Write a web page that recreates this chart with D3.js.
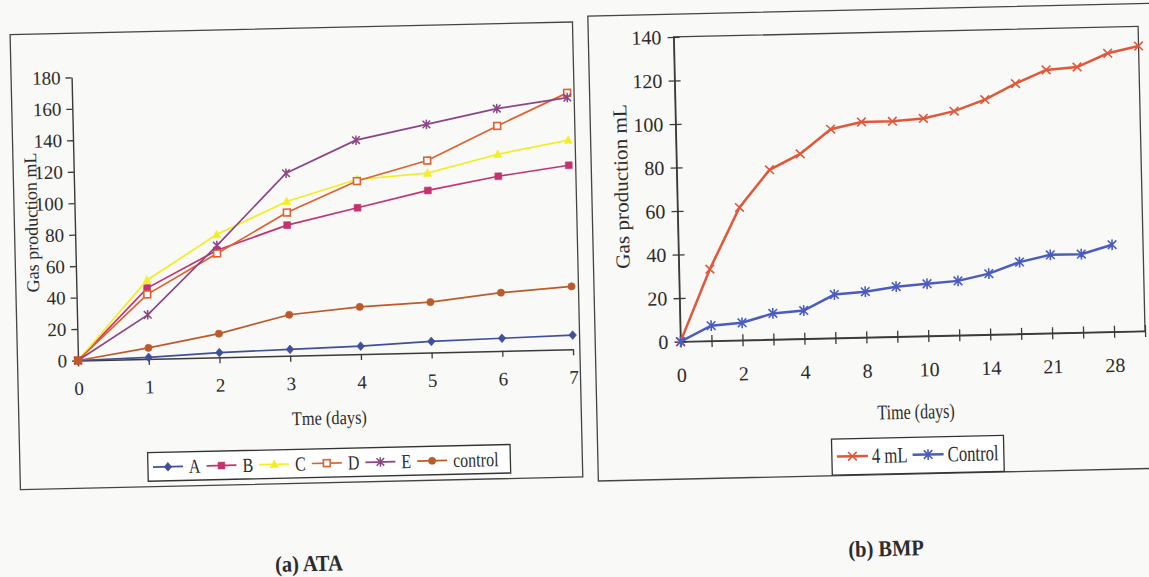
<!DOCTYPE html>
<html>
<head>
<meta charset="utf-8">
<script src="https://cdn.jsdelivr.net/npm/d3@7"></script>
<style>
  body { margin: 0; background: #f9f9f7; }
  svg { display: block; }
  text { font-family: "Liberation Serif", "Times New Roman", serif; fill: #2c2c2c; }
</style>
</head>
<body>
<svg id="chart" width="1149" height="577"></svg>
<script>
// ---------- data: (a) ATA ----------
const ataDays = [0, 1, 2, 3, 4, 5, 6, 7];
const ataA = [0, 1, 3, 4, 5, 7, 8, 9];
const ataB = [0, 45, 68, 83, 93, 103, 111, 117];
const ataC = [0, 50, 78, 98, 111, 114, 125, 133];
const ataD = [0, 41, 66, 91, 110, 122, 143, 163];
const ataE = [0, 28, 71, 116, 136, 145, 154, 160];
const ataControl = [0, 7, 15, 26, 30, 32, 37, 40];
const ataYTicks = [0, 20, 40, 60, 80, 100, 120, 140, 160, 180];
const ataNames = ["A", "B", "C", "D", "E", "control"];

// ---------- data: (b) BMP ----------
const bmpCategories = ["0", "", "2", "", "4", "", "8", "", "10", "", "14", "", "21", "", "28", ""];
const bmp4mL = [0, 33, 61, 78, 85, 96, 99, 99, 100, 103, 108, 115, 121, 122, 128, 131];
const bmpControl = [0, 7, 8, 12, 13, 20, 21, 23, 24, 25, 28, 33, 36, 36, 40];
const bmpYTicks = [0, 20, 40, 60, 80, 100, 120, 140];
const bmpNames = ["4 mL", "Control"];

// ---------- helpers ----------
const INK = "#3a3a3a";
const svg = d3.select("#chart");
const root = svg.append("g").attr("transform", "rotate(-1.3,574.5,288.5)");

function ctext(g, str, x, y, size, k, anchor, weight) {
  return g.append("text")
    .attr("transform", `translate(${x},${y}) scale(${k},1)`)
    .attr("font-size", size)
    .attr("text-anchor", anchor || "start")
    .attr("font-weight", weight || "normal")
    .text(str);
}

const markers = {
  diamond: r => `M0,${-r * 1.15}L${r},0L0,${r * 1.15}L${-r},0Z`,
  square: r => `M${-r},${-r}H${r}V${r}H${-r}Z`,
  triangle: r => `M0,${-r * 1.1}L${r},${r * 0.8}L${-r},${r * 0.8}Z`,
  circle: r => d3.arc()({innerRadius: 0, outerRadius: r, startAngle: 0, endAngle: 2 * Math.PI}),
  star: r => `M${-r},${-r}L${r},${r}M${-r},${r}L${r},${-r}M0,${-r * 1.25}L0,${r * 1.25}`,
  cross: r => `M${-r},${-r}L${r},${r}M${-r},${r}L${r},${-r}`
};

function drawMarker(g, spec, x, y) {
  const p = g.append("path")
    .attr("transform", `translate(${x},${y})`)
    .attr("d", markers[spec.shape](spec.r));
  if (spec.hollow) {
    p.attr("fill", "#fff").attr("stroke", spec.color).attr("stroke-width", 1.6);
  } else if (spec.shape === "star" || spec.shape === "cross") {
    p.attr("fill", "none").attr("stroke", spec.color).attr("stroke-width", spec.sw || 1.5);
  } else {
    p.attr("fill", spec.color).attr("stroke", spec.color).attr("stroke-width", 0.6);
  }
}

function styleAxis(g, size) {
  g.attr("font-size", null).attr("font-family", null);
  g.selectAll("text").attr("font-size", size).attr("fill", "#2c2c2c");
  g.selectAll("line").attr("stroke", INK).attr("stroke-width", 1.3);
  g.select(".domain").attr("stroke", INK).attr("stroke-width", 1.4);
}

// =================== (a) ATA ===================
const pa = root.append("g");
pa.append("rect").attr("x", 16).attr("y", 22).attr("width", 562.5).attr("height", 455)
  .attr("fill", "none").attr("stroke", "#444").attr("stroke-width", 1.3);

const ax = d3.scaleLinear().domain([0, 7]).range([76.5, 571.6]);
const ay = d3.scaleLinear().domain([0, 180]).range([349.2, 66]);

const gAy = pa.append("g").attr("transform", `translate(${ax(0)},0)`)
  .call(d3.axisLeft(ay).tickValues(ataYTicks).tickFormat(d3.format("d"))
    .tickSize(6).tickSizeOuter(0).tickPadding(5));
styleAxis(gAy, 19);

const gAx = pa.append("g").attr("transform", `translate(0,${ay(0)})`)
  .call(d3.axisBottom(ax).tickValues(ataDays).tickFormat(d3.format("d"))
    .tickSize(6).tickSizeOuter(0).tickPadding(15));
styleAxis(gAx, 19);

ctext(pa, "Tme (days)", 326.5, 418.8, 19.5, 0.84, "middle");
pa.append("text")
  .attr("transform", `translate(39.2,210.2) rotate(-90)`)
  .attr("font-size", 18).attr("text-anchor", "middle")
  .text("Gas production mL");

const ataSeries = [
  {name: ataNames[0], values: ataA, color: "#3f4f9c", shape: "diamond", r: 3.8},
  {name: ataNames[1], values: ataB, color: "#c4336f", shape: "square", r: 3.4},
  {name: ataNames[2], values: ataC, color: "#f2ee24", shape: "triangle", r: 4},
  {name: ataNames[3], values: ataD, color: "#e0602f", shape: "square", r: 3.4, hollow: true},
  {name: ataNames[4], values: ataE, color: "#8b4585", shape: "star", r: 3.8},
  {name: ataNames[5], values: ataControl, color: "#bd5a2a", shape: "circle", r: 3.6}
];

const aLine = d3.line().x((d, i) => ax(ataDays[i])).y(d => ay(d));
ataSeries.forEach(s => {
  const g = pa.append("g");
  g.append("path").attr("d", aLine(s.values)).attr("fill", "none")
    .attr("stroke", s.color).attr("stroke-width", 1.7);
  s.values.forEach((v, i) => drawMarker(g, s, ax(ataDays[i]), ay(v)));
});

// legend (a)
const legA = pa.append("g");
legA.append("rect").attr("x", 144).attr("y", 443).attr("width", 362.5).attr("height", 28.5)
  .attr("fill", "#fff").attr("stroke", "#333").attr("stroke-width", 1.3);
let lx = 149;
const lyA = 457.5;
ataSeries.forEach(s => {
  legA.append("line").attr("x1", lx).attr("x2", lx + 30).attr("y1", lyA).attr("y2", lyA)
    .attr("stroke", s.color).attr("stroke-width", 1.7);
  drawMarker(legA, s, lx + 15, lyA);
  const t = ctext(legA, s.name, lx + 36, lyA + 6.8, 20, 0.8);
  lx += 36 + t.node().getComputedTextLength() * 0.8 + 6;
});

ctext(root, "(a) ATA", 302.7, 565, 22.7, 0.9, "middle", "bold");

// =================== (b) BMP ===================
const pb = root.append("g");
pb.append("rect").attr("x", 594).attr("y", 16.5).attr("width", 575).attr("height", 465)
  .attr("fill", "none").attr("stroke", "#444").attr("stroke-width", 1.3);

const bIdx = d3.range(bmpCategories.length);
const bx = d3.scaleLinear().domain([0, bmpCategories.length - 1]).range([679.3, 1143.9]);
const by = d3.scaleLinear().domain([0, 140]).range([344, 39.3]);

pb.append("rect").attr("x", bx(0)).attr("y", by(140))
  .attr("width", bx(bmpCategories.length - 1) - bx(0)).attr("height", by(0) - by(140))
  .attr("fill", "none").attr("stroke", "#444").attr("stroke-width", 1.3);

const gBy = pb.append("g").attr("transform", `translate(${bx(0)},0)`)
  .call(d3.axisLeft(by).tickValues(bmpYTicks).tickFormat(d3.format("d"))
    .tickSize(6).tickSizeOuter(0).tickPadding(6.3));
styleAxis(gBy, 20);
gBy.selectAll(".tick line").attr("x1", 6);

const gBx = pb.append("g").attr("transform", `translate(0,${by(0)})`)
  .call(d3.axisBottom(bx).tickValues(bIdx).tickFormat(i => bmpCategories[i])
    .tickSize(6).tickSizeOuter(0).tickPadding(20));
styleAxis(gBx, 20);
gBx.selectAll(".tick line").attr("y1", -6);

ctext(pb, "Time (days)", 913.2, 426.4, 21, 0.765, "middle");
pb.append("text")
  .attr("transform", `translate(630.3,187.6) rotate(-90) scale(1.06,1)`)
  .attr("font-size", 20).attr("text-anchor", "middle")
  .text("Gas production mL");

const bmpSeries = [
  {name: bmpNames[0], values: bmp4mL, color: "#e2573a", shape: "cross", r: 4.3, sw: 1.6},
  {name: bmpNames[1], values: bmpControl, color: "#4b5cc0", shape: "star", r: 4.3, sw: 1.6}
];
const bLine = d3.line().x((d, i) => bx(bIdx[i])).y(d => by(d));
bmpSeries.forEach(s => {
  const g = pb.append("g");
  g.append("path").attr("d", bLine(s.values)).attr("fill", "none")
    .attr("stroke", s.color).attr("stroke-width", 2.5);
  s.values.forEach((v, i) => drawMarker(g, s, bx(bIdx[i]), by(v)));
});

// legend (b)
const legB = pb.append("g");
legB.append("rect").attr("x", 828).attr("y", 445).attr("width", 172).attr("height", 36)
  .attr("fill", "#fff").attr("stroke", "#333").attr("stroke-width", 1.3);
let bxl = 833;
const lyB = 462.5;
bmpSeries.forEach(s => {
  legB.append("line").attr("x1", bxl).attr("x2", bxl + 31).attr("y1", lyB).attr("y2", lyB)
    .attr("stroke", s.color).attr("stroke-width", 2.5);
  drawMarker(legB, s, bxl + 15.5, lyB);
  const t = ctext(legB, s.name, bxl + 35, lyB + 7.3, 22, 0.76);
  bxl += 35 + t.node().getComputedTextLength() * 0.76 + 5;
});

ctext(root, "(b) BMP", 880.1, 563, 22.7, 0.9, "middle", "bold");
</script>
</body>
</html>
